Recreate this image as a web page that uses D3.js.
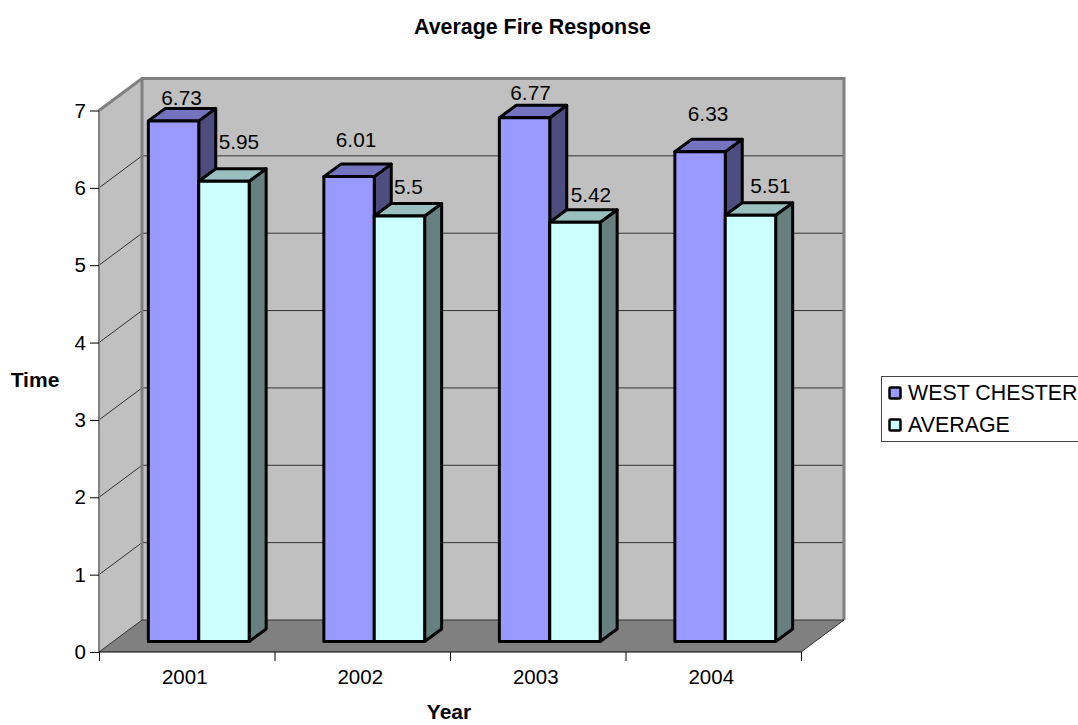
<!DOCTYPE html>
<html>
<head>
<meta charset="utf-8">
<script src="https://cdn.jsdelivr.net/npm/d3@7"></script>
<style>
html, body { margin: 0; padding: 0; background: #fff; overflow: hidden; }
svg text { font-family: "Liberation Sans", Arial, sans-serif; fill: #000; }
</style>
</head>
<body>
<div id="chart"></div>
<script>
var years = ['2001', '2002', '2003', '2004'];
var seriesNames = ['WEST CHESTER', 'AVERAGE'];
var westChester = [6.73, 6.01, 6.77, 6.33];
var average = [5.95, 5.5, 5.42, 5.51];
var yTicks = [0, 1, 2, 3, 4, 5, 6, 7];

var w = 1078, h = 725;
var left = 99, right = 801, bottom = 652, top7 = 110.5;
var wallDx = 43, wallDy = -32;     // shift from the front edge to the back wall
var barDx = 13, barDy = -10.5;     // where the bars' front face stands on the floor
var depthDx = 17, depthDy = -12.5; // bar depth
var barW = 50.4;

var colors = [
	{ front: '#9999ff', top: '#7373bf', side: '#4d4d80' },
	{ front: '#ccffff', top: '#99bfbf', side: '#668080' }
];

// excel places the 3d labels a bit unevenly, so nudge them per bar
var labelNudge = [
	[[8, -23], [7, -37], [6, -25], [8, -38]],
	[[15, -40], [9, -29], [16, -28], [20, -30]]
];

var x = d3.scaleBand().domain(years).range([left, right]);
var xEdges = d3.scaleLinear().domain([0, years.length]).range([left, right]);
var y = d3.scaleLinear().domain([0, 7]).range([bottom, top7]);

var svg = d3.select('#chart').append('svg')
	.attr('width', w).attr('height', h)
	.style('display', 'block');

function pts(list) {
	return list.map(function(p) { return p[0] + ',' + p[1]; }).join(' ');
}

function barLeft(i, j) {
	return x(years[j]) + x.bandwidth() / 2 + barDx + (i - 1) * barW - 1;
}

// walls and floor
svg.append('polygon')
	.attr('points', pts([[left + wallDx, y(7) + wallDy], [right + wallDx, y(7) + wallDy],
		[right + wallDx, y(0) + wallDy], [left + wallDx, y(0) + wallDy]]))
	.attr('fill', '#c0c0c0');
svg.append('polygon')
	.attr('points', pts([[left, y(7)], [left + wallDx, y(7) + wallDy],
		[left + wallDx, y(0) + wallDy], [left, y(0)]]))
	.attr('fill', '#c0c0c0');
svg.append('polygon')
	.attr('points', pts([[left, y(0)], [left + wallDx, y(0) + wallDy],
		[right + wallDx, y(0) + wallDy], [right, y(0)]]))
	.attr('fill', '#808080');

// gridlines
var grid = svg.append('g').attr('fill', 'none').attr('stroke', '#333').attr('stroke-width', 1);
yTicks.slice(1).forEach(function(t) {
	grid.append('polyline')
		.attr('points', pts([[left, y(t)], [left + wallDx, y(t) + wallDy], [right + wallDx, y(t) + wallDy]]));
});

// wall edges
var edge = svg.append('g').attr('fill', 'none').attr('stroke', '#808080');
edge.append('polyline')
	.attr('stroke-width', 3)
	.attr('points', pts([[left, y(7)], [left + wallDx, y(7) + wallDy], [right + wallDx, y(7) + wallDy],
		[right + wallDx, y(0) + wallDy]]));
edge.append('line')
	.attr('stroke-width', 3)
	.attr('x1', left + wallDx).attr('y1', y(7) + wallDy)
	.attr('x2', left + wallDx).attr('y2', y(0) + wallDy);
edge.append('line')
	.attr('stroke-width', 2)
	.attr('x1', left).attr('y1', y(7))
	.attr('x2', left).attr('y2', y(0));

svg.append('polyline')
	.attr('fill', 'none').attr('stroke', '#333').attr('stroke-width', 1)
	.attr('points', pts([[left, y(0)], [left + wallDx, y(0) + wallDy], [right + wallDx, y(0) + wallDy], [right, y(0)]]));
svg.append('line')
	.attr('stroke', '#000').attr('stroke-width', 1)
	.attr('x1', left).attr('y1', y(0)).attr('x2', right).attr('y2', y(0));

// bars
function drawBars(values, i) {
	var c = colors[i];
	var g = svg.append('g').attr('stroke', '#000').attr('stroke-width', 3).attr('stroke-linejoin', 'round');
	function yTop(d) { return y(d) + barDy; }
	var base = y(0) + barDy;

	g.selectAll('.side').data(values).enter().append('polygon')
		.attr('fill', c.side)
		.attr('points', function(d, j) {
			var r = barLeft(i, j) + barW;
			return pts([[r, yTop(d)], [r + depthDx, yTop(d) + depthDy], [r + depthDx, base + depthDy], [r, base]]);
		});
	g.selectAll('.top').data(values).enter().append('polygon')
		.attr('fill', c.top)
		.attr('points', function(d, j) {
			var l = barLeft(i, j), r = l + barW;
			return pts([[l, yTop(d)], [l + depthDx, yTop(d) + depthDy], [r + depthDx, yTop(d) + depthDy], [r, yTop(d)]]);
		});
	g.selectAll('.front').data(values).enter().append('rect')
		.attr('fill', c.front)
		.attr('x', function(d, j) { return barLeft(i, j); })
		.attr('y', yTop)
		.attr('width', barW)
		.attr('height', function(d) { return base - yTop(d); });
}

// value labels go on top once every bar is drawn
function drawLabels(values, i) {
	svg.append('g').selectAll('text').data(values).enter().append('text')
		.text(function(d) { return d; })
		.attr('x', function(d, j) { return barLeft(i, j) + barW / 2 + labelNudge[i][j][0]; })
		.attr('y', function(d, j) { return y(d) + barDy + labelNudge[i][j][1]; })
		.attr('dy', '0.35em')
		.attr('text-anchor', 'middle')
		.attr('font-size', '20.8px');
}

drawBars(westChester, 0);
drawBars(average, 1);
drawLabels(westChester, 0);
drawLabels(average, 1);

// axes
var yAxis = svg.append('g')
	.attr('transform', 'translate(' + left + ',0)')
	.call(d3.axisLeft(y).tickValues(yTicks).tickSize(9).tickPadding(4).tickFormat(d3.format('d')));
yAxis.select('.domain').remove();
yAxis.selectAll('text').attr('font-size', '20.5px').attr('font-family', null);

var xTicks = svg.append('g')
	.attr('transform', 'translate(0,' + bottom + ')')
	.call(d3.axisBottom(xEdges).tickValues(d3.range(years.length + 1)).tickSize(9).tickFormat(''));
xTicks.select('.domain').remove();

var xAxis = svg.append('g')
	.attr('transform', 'translate(-2,' + bottom + ')')
	.call(d3.axisBottom(x).tickSize(0).tickPadding(17));
xAxis.select('.domain').remove();
xAxis.selectAll('text').attr('font-size', '20.5px').attr('font-family', null);

// titles
svg.append('text').text('Average Fire Response')
	.attr('x', 532.5).attr('y', 34)
	.attr('text-anchor', 'middle').attr('font-weight', 'bold').attr('font-size', '21.4px');
svg.append('text').text('Time')
	.attr('x', 35).attr('y', 387)
	.attr('text-anchor', 'middle').attr('font-weight', 'bold').attr('font-size', '21px');
svg.append('text').text('Year')
	.attr('x', 449).attr('y', 719)
	.attr('text-anchor', 'middle').attr('font-weight', 'bold').attr('font-size', '21px');

// legend
var legend = svg.append('g');
legend.append('rect')
	.attr('x', 881.5).attr('y', 376.5).attr('width', 210).attr('height', 65)
	.attr('fill', '#fff').attr('stroke', '#444').attr('stroke-width', 1);
var items = legend.selectAll('g').data(seriesNames).enter().append('g')
	.attr('transform', function(d, i) { return 'translate(0,' + (i * 32) + ')'; });
items.append('rect')
	.attr('x', 889.5).attr('y', 387.5).attr('width', 11).attr('height', 11)
	.attr('rx', 1)
	.attr('fill', function(d, i) { return colors[i].front; })
	.attr('stroke', '#000').attr('stroke-width', 2.5);
items.append('text').text(function(d) { return d; })
	.attr('x', 908).attr('y', 400)
	.attr('font-size', '21.4px');
</script>
</body>
</html>
